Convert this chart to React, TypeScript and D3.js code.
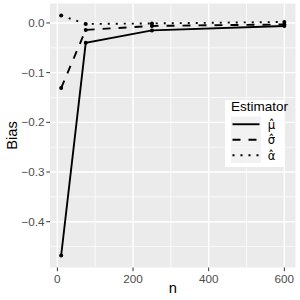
import React from 'react'
import * as d3 from 'd3'

const nValues = [10, 75, 250, 600]
const muBias = [-0.468, -0.04, -0.015, -0.006]
const sigmaBias = [-0.131, -0.014, -0.006, -0.003]
const alphaBias = [0.015, -0.002, -0.001, 0.002]
const xTicks = [0, 200, 400, 600]
const yTicks = [0, -0.1, -0.2, -0.3, -0.4]
const seriesNames = ['μ\u0302', 'σ\u0302', 'α\u0302']
const dashes = ['', '8,8', '2,6']

export default function App() {
  const width = 300
  const height = 300
  const left = 50
  const right = 295.5
  const top = 3.5
  const bottom = 267.5

  const allY = [...muBias, ...sigmaBias, ...alphaBias]
  const [xmin, xmax] = d3.extent(nValues) as [number, number]
  const [ymin, ymax] = d3.extent(allY) as [number, number]
  const xpad = (xmax - xmin) * 0.05
  const ypad = (ymax - ymin) * 0.05

  const x = d3.scaleLinear().domain([xmin - xpad, xmax + xpad]).range([left, right])
  const y = d3.scaleLinear().domain([ymin - ypad, ymax + ypad]).range([bottom, top])

  const xMinor = [100, 300, 500]
  const yMinor = [0.05, -0.05, -0.15, -0.25, -0.35, -0.45].filter(
    (v) => v >= y.domain()[0] && v <= y.domain()[1]
  )

  const lineGen = d3
    .line<number>()
    .x((d, i) => x(nValues[i]))
    .y((d) => y(d))

  const series = [muBias, sigmaBias, alphaBias]
  const font = 'Liberation Sans, Arial, sans-serif'

  const legX = 225
  const legY = 100
  const keyY0 = 116.5
  const keyH = 15.5

  return (
    <svg width={width} height={height} style={{ position: 'absolute', left: 0, top: 0 }} fontFamily={font}>
      <rect width={width} height={height} fill="white" />
      <rect x={left} y={top} width={right - left} height={bottom - top} fill="#EBEBEB" />
      {xMinor.map((v) => (
        <line key={'xm' + v} x1={x(v)} x2={x(v)} y1={top} y2={bottom} stroke="white" strokeWidth={0.7} />
      ))}
      {yMinor.map((v) => (
        <line key={'ym' + v} x1={left} x2={right} y1={y(v)} y2={y(v)} stroke="white" strokeWidth={0.7} />
      ))}
      {xTicks.map((v) => (
        <line key={'xg' + v} x1={x(v)} x2={x(v)} y1={top} y2={bottom} stroke="white" strokeWidth={1.4} />
      ))}
      {yTicks.map((v) => (
        <line key={'yg' + v} x1={left} x2={right} y1={y(v)} y2={y(v)} stroke="white" strokeWidth={1.4} />
      ))}

      {series.map((s, k) => (
        <g key={'s' + k}>
          <path d={lineGen(s) || ''} fill="none" stroke="black" strokeWidth={1.9} strokeDasharray={dashes[k]} />
          {s.map((v, i) => (
            <circle key={i} cx={x(nValues[i])} cy={y(v)} r={2} fill="black" />
          ))}
        </g>
      ))}

      {xTicks.map((v) => (
        <g key={'xt' + v}>
          <line x1={x(v)} x2={x(v)} y1={bottom} y2={bottom + 3.7} stroke="#333333" strokeWidth={1} />
          <text x={x(v)} y={bottom + 15} textAnchor="middle" fontSize={11.7} fill="#4D4D4D">
            {d3.format('d')(v)}
          </text>
        </g>
      ))}
      {yTicks.map((v) => (
        <g key={'yt' + v}>
          <line x1={left - 3.7} x2={left} y1={y(v)} y2={y(v)} stroke="#333333" strokeWidth={1} />
          <text x={left - 5.5} y={y(v) + 4} textAnchor="end" fontSize={11.7} fill="#4D4D4D">
            {v === 0 ? '0.0' : '−' + d3.format('.1f')(-v)}
          </text>
        </g>
      ))}

      <text x={(left + right) / 2} y={293} textAnchor="middle" fontSize={14.7} fill="black">
        n
      </text>
      <text
        transform={`translate(17,${(top + bottom) / 2}) rotate(-90)`}
        textAnchor="middle"
        fontSize={14.7}
        fill="black"
      >
        Bias
      </text>

      <rect x={legX} y={legY} width={59} height={67} fill="white" />
      <text x={legX + 6} y={legY + 11} fontSize={13.5} fill="black">
        Estimator
      </text>
      {seriesNames.map((name, k) => {
        const cy = keyY0 + keyH * k + keyH / 2
        return (
          <g key={'lg' + k}>
            <rect x={legX + 6} y={keyY0 + keyH * k} width={30} height={keyH} fill="#F2F2F2" />
            <line
              x1={legX + 7.5}
              x2={legX + 34.5}
              y1={cy}
              y2={cy}
              stroke="black"
              strokeWidth={1.9}
              strokeDasharray={dashes[k]}
            />
            <text
              x={legX + 46.5}
              y={cy + 4.5}
              fontSize={11.7}
              textAnchor="middle"
              fill="black"
              fontFamily="DejaVu Sans, sans-serif"
            >
              {name}
            </text>
          </g>
        )
      })}
    </svg>
  )
}
